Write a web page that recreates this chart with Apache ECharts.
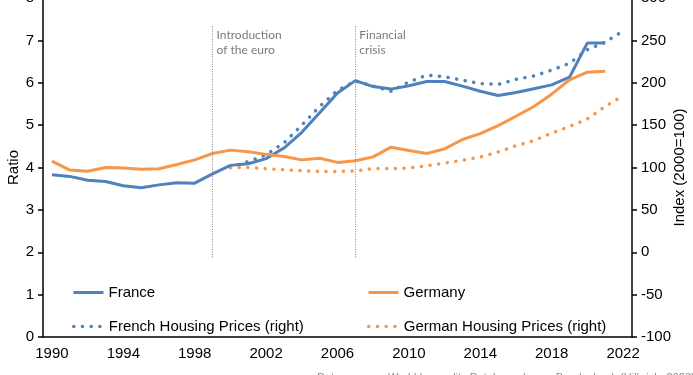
<!DOCTYPE html>
<html>
<head>
<meta charset="utf-8">
<script src="https://cdn.jsdelivr.net/npm/echarts@6/dist/echarts.min.js"></script>
<style>
  html, body { margin: 0; padding: 0; background: #fff; }
  #chart { width: 693px; height: 375px; }
</style>
</head>
<body>
<div id="chart"></div>
<script>
// years on the category axis
var years = [];
for (var y = 1990; y <= 2022; y++) years.push(String(y));

// ratio (left axis), 1990-2021
var franceRatio = [3.83, 3.79, 3.70, 3.67, 3.57, 3.52, 3.59, 3.64, 3.63, 3.85,
  4.05, 4.09, 4.21, 4.46, 4.83, 5.29, 5.76, 6.05, 5.91, 5.85,
  5.93, 6.03, 6.03, 5.92, 5.80, 5.70, 5.77, 5.86, 5.95, 6.13,
  6.94, 6.94, null];
var germanyRatio = [4.15, 3.94, 3.91, 4.00, 3.99, 3.96, 3.97, 4.07, 4.18, 4.33,
  4.41, 4.37, 4.31, 4.26, 4.18, 4.22, 4.12, 4.16, 4.25, 4.48,
  4.40, 4.33, 4.44, 4.66, 4.80, 4.99, 5.21, 5.44, 5.73, 6.07,
  6.25, 6.27, null];

// housing price index, 2000=100 (right axis)
var frenchHousing = [null, null, null, null, null, null, null, null, null, null,
  100, 107, 115, 129, 150, 172, 191, 202, 196, 190,
  201, 209, 207, 203, 199, 198, 204, 208, 215, 223,
  239, 248, 261];
var germanHousing = [null, null, null, null, null, null, null, null, null, null,
  100, 100, 98.6, 97.4, 96.2, 95.4, 95.4, 95.8, 99, 98.6,
  99.4, 102, 105.3, 108.4, 112.4, 118.3, 125.7, 131.6, 140.7, 148.5,
  157.3, 172.1, 184.7];

// event markers: [year, label]
var events = [['1999', 'Introduction\nof the euro'], ['2007', 'Financial\ncrisis']];
var eventSpan = [1.88, 7.33];

var blue = '#4f81bd', orange = '#f79646';
var font = '"Liberation Sans", Arial, sans-serif';

var chart = echarts.init(document.getElementById('chart'));

function legendAt(name, left, top, lw) {
  return {
    data: [name], left: left, top: top,
    itemWidth: 30, itemHeight: 14,
    itemStyle: { opacity: 0 },
    lineStyle: { width: lw },
    textStyle: { fontFamily: font, fontSize: 15, color: '#000' }
  };
}

var option = {
  animation: false,
  backgroundColor: '#fff',
  grid: { left: 43, right: 61, top: -2, bottom: 38, outerBoundsMode: 'none', containLabel: false },
  legend: [
    legendAt('France', 67, 280, 3),
    legendAt('Germany', 362, 280, 3),
    legendAt('French Housing Prices (right)', 67, 314, 3.5),
    legendAt('German Housing Prices (right)', 362, 314, 3.5)
  ],
  xAxis: {
    type: 'category', data: years, boundaryGap: true,
    axisLine: { lineStyle: { color: '#000', width: 1.5 } },
    axisTick: { interval: 1, length: 5, lineStyle: { color: '#000', width: 1.5 } },
    axisLabel: { interval: 3, color: '#000', fontFamily: font, fontSize: 15, margin: 9 }
  },
  yAxis: [{
    type: 'value', min: 0, max: 8, interval: 1,
    name: 'Ratio', nameLocation: 'middle', nameGap: 22, nameRotate: 90, nameMoveOverlap: false,
    nameTextStyle: { fontFamily: font, fontSize: 15, color: '#000' },
    splitLine: { show: false },
    axisLine: { show: true, lineStyle: { color: '#000', width: 1.5 } },
    axisTick: { show: true, length: 5, lineStyle: { color: '#000', width: 1.5 } },
    axisLabel: { color: '#000', fontFamily: font, fontSize: 15, margin: 9 }
  }, {
    type: 'value', min: -100, max: 300, interval: 50,
    name: 'Index (2000=100)', nameLocation: 'middle', nameGap: 40, nameRotate: 90, nameMoveOverlap: false,
    nameTextStyle: { fontFamily: font, fontSize: 15, color: '#000' },
    splitLine: { show: false },
    axisLine: { show: true, lineStyle: { color: '#000', width: 1.5 } },
    axisTick: { show: true, length: 5, lineStyle: { color: '#000', width: 1.5 } },
    axisLabel: { color: '#000', fontFamily: font, fontSize: 15, margin: 9 }
  }],
  series: [{
    name: 'France', type: 'line', data: franceRatio, yAxisIndex: 0,
    symbol: 'none', color: blue, lineStyle: { width: 3, color: blue },
    z: 3,
    markLine: {
      silent: true, symbol: 'none', label: { show: false },
      lineStyle: { color: '#808080', type: [1, 1.5], width: 1 },
      data: events.map(function (e) {
        return [{ coord: [e[0], eventSpan[0]] }, { coord: [e[0], eventSpan[1]] }];
      })
    }
  }, {
    name: 'Germany', type: 'line', data: germanyRatio, yAxisIndex: 0,
    symbol: 'none', color: orange, lineStyle: { width: 3, color: orange }, z: 3
  }, {
    name: 'French Housing Prices (right)', type: 'line', data: frenchHousing, yAxisIndex: 1,
    symbol: 'none', color: blue,
    lineStyle: { width: 3.5, color: blue, type: [0.1, 8.6], cap: 'round' }, z: 2
  }, {
    name: 'German Housing Prices (right)', type: 'line', data: germanHousing, yAxisIndex: 1,
    symbol: 'none', color: orange,
    lineStyle: { width: 3.5, color: orange, type: [0.1, 8.6], cap: 'round' }, z: 2
  }]
};
chart.setOption(option);

// event labels sit just right of the top of each marker line
var texts = events.map(function (e) {
  var p = chart.convertToPixel({ xAxisIndex: 0, yAxisIndex: 0 }, [e[0], eventSpan[1]]);
  return {
    type: 'text', x: p[0] + 4, y: p[1] + 1,
    style: { text: e[1], fill: '#7a7a7a', font: '12px Lato, sans-serif', lineHeight: 15 }
  };
});
texts.push({
  type: 'text', x: 317, y: 372,
  style: { text: 'Data sources: World Inequality Database, Insee, Bundesbank (Hilbrich, 2023)',
    fill: '#8c8c8c', font: '11px "Liberation Sans", Arial, sans-serif' }
});
chart.setOption({ graphic: texts });
</script>
</body>
</html>
